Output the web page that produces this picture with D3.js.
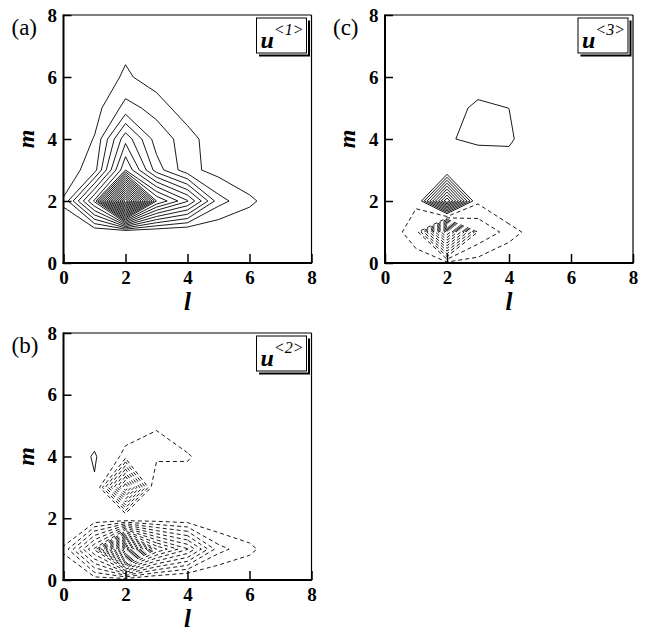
<!DOCTYPE html>
<html>
<head>
<meta charset="utf-8">
<title>Contour maps of u&lt;1&gt;, u&lt;2&gt;, u&lt;3&gt;</title>
<script src="https://d3js.org/d3.v7.min.js"></script>
<style>
  body { margin: 0; background: #fff; }
  text { font-family: "Liberation Serif", "Times New Roman", serif; fill: #000; }
</style>
</head>
<body>
<div id="chart"></div>
<script>
// grid nodes (l across, m up) and axis ticks
const gridL = [0, 1, 2, 3, 4, 5, 6, 7, 8];
const gridM = [0, 1, 2, 3, 4, 5, 6, 7, 8];
const tickValues = [0, 2, 4, 6, 8];

// field values, one row per m (m = 0 first), one column per l
const gridU1 = [
  [0,    0,    0,     0,    0,     0,     0,    0,   0],
  [0.6,  0.07, -0.21, 0,    -0.16, 0.07,  0,    0,   0],
  [1.1,  7.2,  24,    10,   7.1,   2.39,  1.25, 0.2, 0],
  [0.33, 1.57, 8,     3.5,  1.35,  0.585, 0,    0,   0],
  [0,    1.06, 5.67,  2.5,  1.59,  0,     0,    0,   0],
  [0,    0.58, 2.33,  1.69, 0.22,  0,     0,    0,   0],
  [0,    0,    1.23,  0.31, 0,     0,     0,    0,   0],
  [0,    0,    0.65,  0.2,  0,     0,     0,    0,   0],
  [0,    0,    0.2,   0,    0,     0,     0,    0,   0]
];
const gridU2 = [
  [-0.43, -0.31, 0,     0.5,   0.72, 0.3,   0,     0,    0],
  [-1.1,  -7.2,  -20,   -10,   -7.1, -2.39, -1.25, -0.2, 0],
  [-0.1,  0,     0.6,   0,     0,    0.2,   0,     0,    0],
  [0,     0.8,   -10,   0.9,   0.05, 0,     0,     0,    0],
  [-0.47, 1.2,   -1.52, -1.37, -1.2, 0.34,  0,     0,    0],
  [0,     0.02,  -0.03, -0.93, 0.47, 0,     0,     0,    0],
  [0,     0,     0,     0,     0,    0,     0,     0,    0],
  [0,     0,     0,     0,     0,    0,     0,     0,    0],
  [0,     0,     0,     0,     0,    0,     0,     0,    0]
];
const gridU3 = [
  [-0.3,  -0.74, -0.65, -0.55, 0.2,   0,     0, 0, 0],
  [-0.62, -1.3,  -12,   -2.93, -1.6,  -0.14, 0, 0, 0],
  [0,     -0.9,  10,    -0.8,  0.7,   0.3,   0, 0, 0],
  [0,     -0.3,  -0.47, 0.2,   0.525, 0.1,   0, 0, 0],
  [0,     0,     0.92,  1.2,   1.15,  0.27,  0, 0, 0],
  [0,     0,     0.79,  1.1,   0.997, 0.3,   0, 0, 0],
  [0,     0,     0.3,   0.73,  0.5,   0,     0, 0, 0],
  [0,     0,     0,     0,     0,     0,     0, 0, 0],
  [0,     0,     0,     0,     0,     0,     0, 0, 0]
];

// contour levels (negative ones are drawn dashed)
const levelsU1 = [1, 2, 3, 4, 5, 6, 7, 8, 9, 10, 11, 12, 13, 14, 15, 16, 17, 18, 19, 20, 21, 22, 23];
const levelsU2 = [-19, -18, -17, -16, -15, -14, -13, -12, -11, -10, -9, -8, -7, -6, -5, -4, -3, -2, -1, 1];
const levelsU3 = [-11, -10, -9, -8, -7, -6, -5, -4, -3, -2, -1, 1, 2, 3, 4, 5, 6, 7, 8, 9];

const panels = [
  { key: "a", label: "(a)", sup: "<1>", grid: gridU1, levels: levelsU1, left: 63.5, top: 15,  h: 248 },
  { key: "c", label: "(c)", sup: "<3>", grid: gridU3, levels: levelsU3, left: 385,  top: 15,  h: 248 },
  { key: "b", label: "(b)", sup: "<2>", grid: gridU2, levels: levelsU2, left: 63.5, top: 333, h: 247 }
];
const W = 248;

const svg = d3.select("#chart")
  .append("svg")
  .attr("width", 651)
  .attr("height", 632);

panels.forEach(p => {
  const x = d3.scaleLinear().domain([0, 8]).range([p.left, p.left + W]);
  const y = d3.scaleLinear().domain([0, 8]).range([p.top + p.h, p.top]);
  const g = svg.append("g");

  g.append("clipPath").attr("id", "clip-" + p.key)
    .append("rect")
    .attr("x", x(0)).attr("y", y(8))
    .attr("width", W).attr("height", p.h);

  // d3.contours puts node i at i + 0.5
  const nx = gridL.length, ny = gridM.length;
  const contours = d3.contours()
    .size([nx, ny])
    .thresholds(p.levels)(p.grid.flat());

  const toPlot = d3.geoTransform({
    point: function(px, py) {
      const l = gridL[0] + (px - 0.5) * (gridL[nx - 1] - gridL[0]) / (nx - 1);
      const m = gridM[0] + (py - 0.5) * (gridM[ny - 1] - gridM[0]) / (ny - 1);
      this.stream.point(x(l), y(m));
    }
  });
  const path = d3.geoPath(toPlot);

  g.append("g")
    .attr("clip-path", `url(#clip-${p.key})`)
    .selectAll("path")
    .data(contours)
    .join("path")
    .attr("d", path)
    .attr("fill", "none")
    .attr("stroke", "#000")
    .attr("stroke-width", 0.9)
    .attr("stroke-dasharray", d => d.value < 0 ? "4,3" : null);

  // axes with inward ticks
  const xAxis = g.append("g")
    .attr("transform", `translate(0,${y(0)})`)
    .call(d3.axisBottom(x).tickValues(tickValues).tickSizeInner(-9).tickSizeOuter(0).tickPadding(8));
  const yAxis = g.append("g")
    .attr("transform", `translate(${x(0)},0)`)
    .call(d3.axisLeft(y).tickValues(tickValues).tickSizeInner(-8).tickSizeOuter(0).tickPadding(6.5));
  [xAxis, yAxis].forEach(a => {
    a.select(".domain").remove();
    a.selectAll("line").attr("stroke", "#000").attr("stroke-width", 1.5);
    a.selectAll("text")
      .style("font-family", '"Liberation Serif", serif')
      .style("font-size", "19px")
      .style("font-weight", "bold")
      .style("fill", "#000");
  });

  // frame: left and bottom heavier
  g.append("line").attr("x1", x(0)).attr("x2", x(8)).attr("y1", y(8)).attr("y2", y(8))
    .attr("stroke", "#000").attr("stroke-width", 1.2);
  g.append("line").attr("x1", x(8)).attr("x2", x(8)).attr("y1", y(8)).attr("y2", y(0))
    .attr("stroke", "#000").attr("stroke-width", 1.2);
  g.append("line").attr("x1", x(0)).attr("x2", x(0)).attr("y1", y(8) - 0.6).attr("y2", y(0) + 1)
    .attr("stroke", "#000").attr("stroke-width", 2);
  g.append("line").attr("x1", x(0) - 1).attr("x2", x(8) + 0.6).attr("y1", y(0)).attr("y2", y(0))
    .attr("stroke", "#000").attr("stroke-width", 2);

  // axis titles
  g.append("text")
    .attr("x", (x(0) + x(8)) / 2).attr("y", y(0) + 47)
    .attr("text-anchor", "middle")
    .style("font-size", "25px").style("font-weight", "bold").style("font-style", "italic")
    .text("l");
  g.append("text")
    .attr("transform", `translate(${x(0) - 30},${(y(0) + y(8)) / 2}) rotate(-90)`)
    .attr("text-anchor", "middle")
    .style("font-size", "24px").style("font-weight", "bold").style("font-style", "italic")
    .text("m");

  // panel label
  g.append("text")
    .attr("x", x(0) - 52).attr("y", y(8) + 20)
    .style("font-size", "23px")
    .text(p.label);

  // legend box with shadow
  const bx = x(8) - 55, by = y(8) + 3, bw = 50, bh = 35;
  g.append("rect").attr("x", bx).attr("y", by).attr("width", bw).attr("height", bh)
    .attr("fill", "#fff").attr("stroke", "#000").attr("stroke-width", 1);
  g.append("path")
    .attr("d", `M${bx + bw + 2.5},${by + 2.5}V${by + bh + 2.5}H${bx + 2.5}`)
    .attr("fill", "none").attr("stroke", "#000").attr("stroke-width", 2);
  const t = g.append("text")
    .attr("x", bx + 4).attr("y", by + 30)
    .style("font-size", "24px").style("font-weight", "bold").style("font-style", "italic")
    .text("u");
  t.append("tspan")
    .attr("dy", -13)
    .style("font-size", "16px").style("font-weight", "normal")
    .text(p.sup);
});
</script>
</body>
</html>
